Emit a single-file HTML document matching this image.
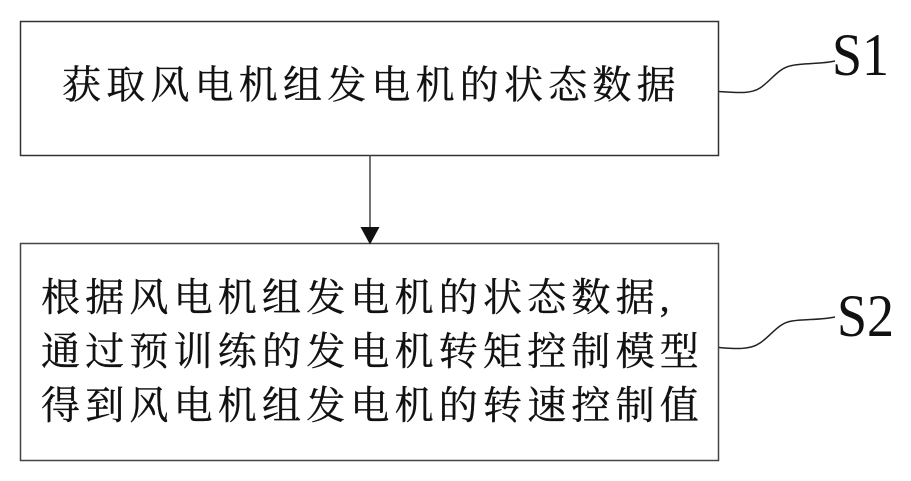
<!DOCTYPE html>
<html>
<head>
<meta charset="utf-8">
<style>
html,body{margin:0;padding:0;background:#fff;width:911px;height:481px;overflow:hidden}
svg{display:block}
text{font-family:"Liberation Serif","Noto Serif CJK SC",serif;fill:#111}
.c{font-size:39px;letter-spacing:5.2px;stroke:#111;stroke-width:.35px}
.s{font-size:60px}
</style>
</head>
<body>
<svg width="911" height="481" viewBox="0 0 911 481" xmlns="http://www.w3.org/2000/svg">
<rect x="20.500" y="21.500" width="698" height="134" fill="none" stroke="#333" stroke-width="1.500"/>
<rect x="20.500" y="243.500" width="698" height="217" fill="none" stroke="#444" stroke-width="1.500"/>
<line x1="370" y1="155" x2="370" y2="228" stroke="#444" stroke-width="1.500"/>
<polygon points="360.500,227 379.500,227 370,244.500" fill="#111"/>
<path d="M719 91.500 C735 92.500 750 94.500 760 88 C772 80 778 68 792 65.500 C805 63 822 64 835 61" fill="none" stroke="#222" stroke-width="1.500"/>
<path d="M719 347.500 C735 349 750 350 760 343 C772 335 778 323 792 321 C805 319 822 320 835 317" fill="none" stroke="#222" stroke-width="1.500"/>
<text class="c" x="62" y="98.500">获取风电机组发电机的状态数据</text>
<text class="c" x="41" y="311">根据风电机组发电机的状态数据,</text>
<text class="c" x="41" y="365">通过预训练的发电机转矩控制模型</text>
<text class="c" x="41" y="419">得到风电机组发电机的转速控制值</text>
<text class="s" transform="translate(832 75) scale(.9 1)">S1</text>
<text class="s" transform="translate(837 336) scale(.9 1)">S2</text>
</svg>
</body>
</html>
